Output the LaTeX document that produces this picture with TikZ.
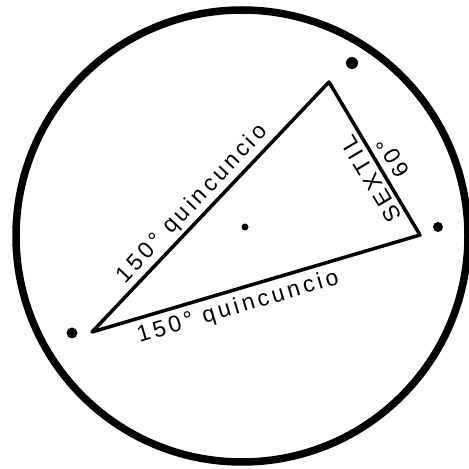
\documentclass[tikz,border=0pt]{standalone}
\usepackage{fontspec}
\setsansfont{Liberation Sans}
\usetikzlibrary{calc}

\begin{document}
\begin{tikzpicture}[x=1pt, y=1pt, line join=round,
  font=\sffamily\fontsize{23}{23}\selectfont\addfontfeature{LetterSpace=15},
  planet/.style={circle, fill, inner sep=0pt, minimum size=#1}]
  \useasboundingbox (0,0) rectangle (469,469);

  \coordinate (O) at (242,233);
  \coordinate (A) at (92,137);
  \coordinate (B) at (329,387);
  \coordinate (C) at (420,234);

  \draw[line width=7.5] (O) circle[radius=226];
  \draw[line width=3.5] (A) -- (B) -- (C) -- cycle;

  \path (A) -- (B) node[pos=0.47, sloped, above, inner sep=4] (quinAB) {150° quincuncio};
  \path (A) -- (C) node[pos=0.43, sloped, below, inner sep=7] (quinAC) {150° quincuncio};
  \path (C) -- (B) node[pos=0.41, sloped, allow upside down, above, inner sep=5] (sextil) {SEXTIL};
  \path (C) -- (B) node[pos=0.45, sloped, allow upside down, below, inner sep=8] (sixty) {60°};

  \node[planet=11] (pA) at (72,136) {};
  \node[planet=12] (pB) at (352,406) {};
  \node[planet=10] (pC) at (438,242) {};
  \node[planet=7] (pO) at (245,242) {};
\end{tikzpicture}
\end{document}
